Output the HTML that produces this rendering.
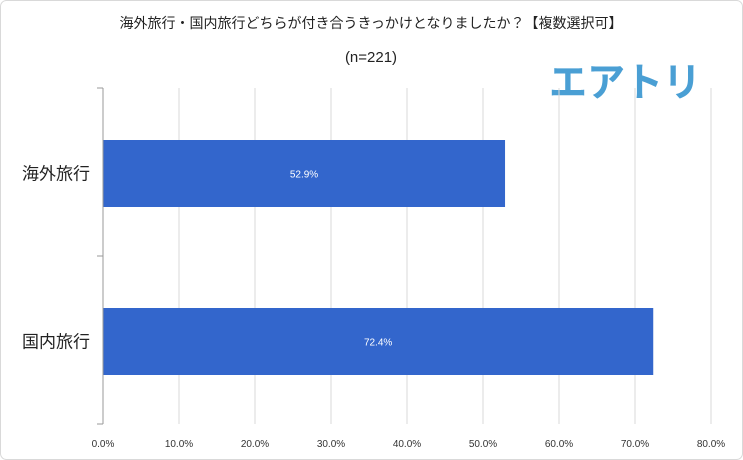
<!DOCTYPE html>
<html><head><meta charset="utf-8"><style>
body{margin:0;background:#fff;}
svg{display:block;font-family:"Liberation Sans","Noto Sans CJK JP",sans-serif;}
</style></head><body>
<svg id="c" width="743" height="460">
<rect x="0.5" y="0.5" width="742" height="459" rx="6" fill="#fff" stroke="#d9d9d9"/>
<text x="371" y="28" font-size="14" text-anchor="middle" fill="#222">海外旅行・国内旅行どちらが付き合うきっかけとなりましたか？【複数選択可】</text>
<text x="371" y="62" font-size="15" text-anchor="middle" fill="#222">(n=221)</text>
<text x="549" y="96" font-size="40" font-weight="bold" fill="#4a9fd4" textLength="152" lengthAdjust="spacingAndGlyphs">エアトリ</text>
<g id="grid"></g><g id="bars"></g><g id="axes"></g>
</svg>
<script>
const categories=["海外旅行","国内旅行"];
const values=[52.9,72.4];
const ticks=[0,10,20,30,40,50,60,70,80];
const tickLabels=["0.0%","10.0%","20.0%","30.0%","40.0%","50.0%","60.0%","70.0%","80.0%"];
const x0=103,x1=711,yTop=88,yBot=424;
const xs=v=>x0+(v/80)*(x1-x0);
const band=(yBot-yTop)/categories.length;
const NS="http://www.w3.org/2000/svg";
function mk(tag,attrs,parent,text){const e=document.createElementNS(NS,tag);for(const k in attrs)e.setAttribute(k,attrs[k]);if(text!=null)e.textContent=text;document.getElementById(parent).appendChild(e);return e;}
ticks.forEach((t,i)=>{
  if(i>0){const g=mk("line",{x1:xs(t),x2:xs(t),y1:yTop,y2:yBot,stroke:"#d9d9d9"},"grid");
  
  }
  const l=mk("text",{x:xs(t),y:447,"font-size":10,"text-anchor":"middle",fill:"#333"},"axes",tickLabels[i]);
  
  
});
const ax=mk("line",{x1:x0,x2:x0,y1:yTop,y2:yBot,stroke:"#999"},"axes");


for(let i=0;i<=categories.length;i++){
  const tk=mk("line",{x1:97,x2:x0,y1:yTop+band*i,y2:yTop+band*i,stroke:"#999"},"axes");
  
  
}
categories.forEach((c,i)=>{
  const cy=yTop+band*(i+0.5)+1.5;
  const bh=67;
  const r=mk("rect",{x:x0,y:cy-bh/2,width:xs(values[i])-x0,height:bh,fill:"#3366cc"},"bars");
  
  
  const v=mk("text",{x:(x0+xs(values[i]))/2,y:cy+4,"font-size":10,"text-anchor":"middle",fill:"#fff"},"bars",values[i].toFixed(1)+"%");
  
  
  const cl=mk("text",{x:90,y:cy+6,"font-size":17,"text-anchor":"end",fill:"#222"},"axes",c);
  
  
});
</script>
</body></html>
